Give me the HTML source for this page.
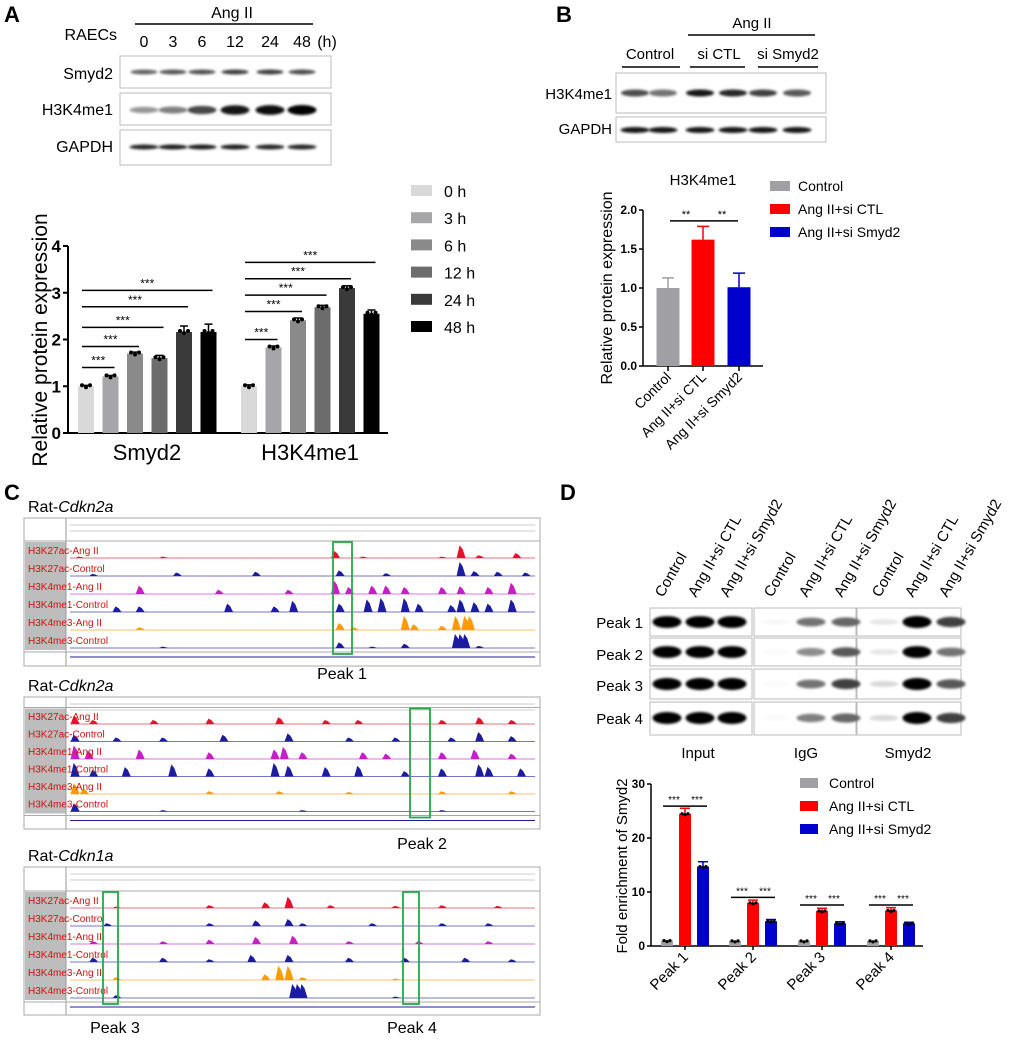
<!DOCTYPE html>
<html><head><meta charset="utf-8"><style>
body{margin:0;background:#fff}
svg{display:block;font-family:"Liberation Sans",sans-serif}
</style></head><body>
<svg id="fig" width="1020" height="1040" viewBox="0 0 1020 1040" xmlns="http://www.w3.org/2000/svg">
<defs><filter id="blur" x="-20%" y="-50%" width="140%" height="200%"><feGaussianBlur stdDeviation="1.3"/></filter></defs>
<g font-weight="bold" font-size="22">
<text x="4" y="22">A</text>
<text x="556" y="22">B</text>
<text x="4" y="500">C</text>
<text x="560" y="500">D</text>
</g>
<g font-size="16">
<text x="232" y="18" text-anchor="middle">Ang II</text>
<line x1="135" y1="24" x2="313" y2="24" stroke="#000" stroke-width="1.5"/>
<text x="117" y="40" text-anchor="end">RAECs</text>
<text x="144" y="47" text-anchor="middle">0</text><text x="173" y="47" text-anchor="middle">3</text><text x="202" y="47" text-anchor="middle">6</text><text x="235" y="47" text-anchor="middle">12</text><text x="270" y="47" text-anchor="middle">24</text><text x="302" y="47" text-anchor="middle">48</text><text x="327" y="47" text-anchor="middle">(h)</text>
<text x="113" y="79" text-anchor="end">Smyd2</text>
<text x="113" y="115" text-anchor="end">H3K4me1</text>
<text x="113" y="152" text-anchor="end">GAPDH</text>
<rect x="120" y="56" width="211" height="32" fill="#fff" stroke="#bbb"/>
<rect x="120" y="93" width="211" height="32" fill="#fff" stroke="#bbb"/>
<rect x="120" y="130" width="211" height="35" fill="#fff" stroke="#bbb"/>
</g>
<g font-size="15">
<text x="752" y="28" text-anchor="middle">Ang II</text>
<line x1="688" y1="35" x2="815" y2="35" stroke="#000" stroke-width="1.5"/>
<text x="650" y="59" text-anchor="middle">Control</text>
<text x="719" y="59" text-anchor="middle">si CTL</text>
<text x="788" y="59" text-anchor="middle">si Smyd2</text>
<line x1="622" y1="67" x2="680" y2="67" stroke="#000" stroke-width="1.5"/><line x1="690" y1="67" x2="745" y2="67" stroke="#000" stroke-width="1.5"/><line x1="758" y1="67" x2="818" y2="67" stroke="#000" stroke-width="1.5"/>
<text x="612" y="99" text-anchor="end">H3K4me1</text>
<text x="612" y="134" text-anchor="end">GAPDH</text>
<rect x="616" y="73" width="210" height="40" fill="#fff" stroke="#bbb"/>
<rect x="616" y="117" width="210" height="25" fill="#fff" stroke="#bbb"/>
</g>
<g font-size="15">
<rect x="650" y="608" width="102" height="28" fill="#fff" stroke="#bbb"/><rect x="754" y="608" width="102" height="28" fill="#fff" stroke="#bbb"/><rect x="857" y="608" width="104" height="28" fill="#fff" stroke="#bbb"/>
<rect x="650" y="638" width="102" height="28" fill="#fff" stroke="#bbb"/><rect x="754" y="638" width="102" height="28" fill="#fff" stroke="#bbb"/><rect x="857" y="638" width="104" height="28" fill="#fff" stroke="#bbb"/>
<rect x="650" y="669" width="102" height="30" fill="#fff" stroke="#bbb"/><rect x="754" y="669" width="102" height="30" fill="#fff" stroke="#bbb"/><rect x="857" y="669" width="104" height="30" fill="#fff" stroke="#bbb"/>
<rect x="650" y="702" width="102" height="33" fill="#fff" stroke="#bbb"/><rect x="754" y="702" width="102" height="33" fill="#fff" stroke="#bbb"/><rect x="857" y="702" width="104" height="33" fill="#fff" stroke="#bbb"/>
<text x="643" y="628" text-anchor="end">Peak 1</text><text x="643" y="660" text-anchor="end">Peak 2</text><text x="643" y="691" text-anchor="end">Peak 3</text><text x="643" y="724" text-anchor="end">Peak 4</text>
<text x="698" y="758" text-anchor="middle">Input</text><text x="806" y="758" text-anchor="middle">IgG</text><text x="908" y="758" text-anchor="middle">Smyd2</text>
</g>
<g id="bands"></g>
<g id="browser"></g>
<g id="chartA"></g>
<g id="chartB"></g>
<g id="chartD"></g>
</svg>
<script>
const NS='http://www.w3.org/2000/svg';
function mk(p,tag,a,txt){const e=document.createElementNS(NS,tag);for(const k in a)e.setAttribute(k,a[k]);if(txt!==undefined)e.textContent=txt;p.appendChild(e);return e;}

// ---------- western bands ----------
const bandsG=document.getElementById('bands');
const aLanes=[144,173,202,235,270,302];
const aSmyd2=[0.6,0.65,0.68,0.75,0.75,0.7];
const aH3=[0.4,0.5,0.72,0.9,0.95,1.0];
const aGapdh=[0.85,0.88,0.88,0.88,0.85,0.85];
function band(x,y,w,h,dark){
 const c=Math.round(255*(1-dark));
 const e=mk(bandsG,'ellipse',{cx:x,cy:y,rx:w/2,ry:h/2,fill:'rgb('+c+','+c+','+c+')',filter:'url(#blur)'});
 
 
}
aLanes.forEach((x,i)=>{band(x,72,27,5,aSmyd2[i]);band(x,110,29,4+aH3[i]*6,aH3[i]);band(x,147,29,5,aGapdh[i]);});
const bLanes=[635,663,700,733,763,797];
const bH3=[0.7,0.55,0.9,0.85,0.75,0.65];
bLanes.forEach((x,i)=>{band(x,93,28,7,bH3[i]);band(x,130,29,6,0.92);});
const dLanes=[[667,700,732],[776,811,846],[884,917,951]];
const dRows=[622,652,684,718];
const dInt=[[[0.98,0.98,0.98],[0.03,0.55,0.6],[0.1,1,0.75]],[[0.98,0.98,0.98],[0.02,0.45,0.65],[0.1,0.98,0.55]],[[1,1,1],[0.02,0.55,0.75],[0.15,1,0.65]],[[1,1,1],[0.02,0.5,0.6],[0.15,1,0.75]]];
dRows.forEach((y,r)=>dLanes.forEach((ls,g)=>ls.forEach((x,l)=>{const v=dInt[r][g][l];band(x,y,29,5+v*7,v);})));

// rotated column labels D
const dColLabels=['Control','Ang II+si CTL','Ang II+si Smyd2'];
dLanes.forEach(ls=>ls.forEach((x,l)=>{
 const t=mk(document.getElementById('fig'),'text',{x:0,y:0,transform:'translate('+(x-4)+',598) rotate(-60)','font-size':15},dColLabels[l]);
 
 
}));

// ---------- genome browser (panel C) ----------
const bg=document.getElementById('browser');
const trackLabels=['H3K27ac-Ang II','H3K27ac-Control','H3K4me1-Ang II','H3K4me1-Control','H3K4me3-Ang II','H3K4me3-Control'];
const trackColors=['#e8102a','#1c1ca0','#c81ec8','#1c1ca0','#ff9a00','#1c1ca0'];
const p1Peaks=[
 [[.02,.1],[.2,.1],[.57,.5],[.63,.1],[.8,.1],[.84,.9],[.88,.2],[.96,.35]],
 [[.05,.15],[.23,.25],[.4,.3],[.58,.4],[.68,.2],[.84,1],[.87,.35],[.92,.3],[.98,.25]],
 [[.15,.6],[.32,.3],[.47,.3],[.57,.95],[.6,.5],[.65,.6],[.68,.6],[.72,.5],[.8,.5],[.84,.55],[.9,.5],[.95,.8]],
 [[.1,.4],[.15,.4],[.34,.6],[.44,.4],[.48,.8],[.58,.6],[.64,.9],[.67,1],[.72,1],[.75,.6],[.82,.5],[.84,.9],[.87,.7],[.9,.6],[.95,.9]],
 [[.15,.2],[.58,.5],[.61,.2],[.72,1],[.74,.4],[.8,.3],[.83,1],[.85,1],[.86,1]],
 [[.2,.1],[.58,.4],[.65,.1],[.72,.3],[.83,1],[.84,1],[.85,1],[.88,.15]]
];
const p2Peaks=[
 [[.01,.6],[.05,.3],[.18,.3],[.3,.4],[.45,.5],[.55,.3],[.62,.3],[.8,.3],[.88,.5],[.95,.3]],
 [[.01,.5],[.1,.3],[.2,.3],[.33,.5],[.47,.6],[.6,.3],[.7,.3],[.82,.3],[.88,.7],[.95,.4]],
 [[.01,1],[.04,.6],[.15,.7],[.3,.5],[.44,.7],[.46,.9],[.5,.5],[.63,.5],[.68,.4],[.8,.5],[.87,.7],[.95,.4]],
 [[.01,1],[.05,.5],[.12,.7],[.22,.9],[.3,.6],[.44,1],[.47,.8],[.55,.7],[.62,.8],[.72,.4],[.8,.6],[.88,.9],[.9,.7],[.97,.6]],
 [[.01,.8],[.03,.4],[.3,.2],[.45,.2],[.6,.15],[.8,.2],[.95,.2]],
 [[.01,.6],[.2,.1],[.5,.1],[.8,.1]]
];
const p3Peaks=[
 [[.1,.1],[.3,.2],[.42,.4],[.47,.8],[.56,.2],[.7,.15],[.8,.2],[.92,.15]],
 [[.08,.2],[.3,.2],[.4,.4],[.47,.5],[.5,.2],[.65,.2],[.8,.2],[.9,.2]],
 [[.05,.2],[.2,.2],[.3,.3],[.4,.5],[.48,.6],[.6,.2],[.75,.2],[.9,.2]],
 [[.05,.3],[.2,.3],[.3,.2],[.39,.5],[.47,.5],[.6,.3],[.72,.3],[.85,.3],[.95,.2]],
 [[.1,.2],[.42,.4],[.45,1],[.47,1],[.5,.2],[.7,.1]],
 [[.1,.2],[.48,1],[.49,1],[.5,1],[.7,.1]]
];
function browser(name,title,y0,h,baseY,step,peaks,boxes,peakLabels){
 const g=mk(bg,'g',{});
 
 
 const tt=mk(g,'text',{x:28,y:y0-6,'font-size':16},'');
 mk(tt,'tspan',{},'Rat-');mk(tt,'tspan',{'font-style':'italic'},title);
 
 
 mk(g,'rect',{x:24,y:y0,width:516,height:h,fill:'#fff',stroke:'#aaa'});
 mk(g,'rect',{x:25,y:baseY-step+2,width:41,height:step*6,fill:'#bdbdbd'});
 mk(g,'line',{x1:66,y1:y0,x2:66,y2:y0+h,stroke:'#999'});
 mk(g,'line',{x1:24,y1:baseY-step+1,x2:540,y2:baseY-step+1,stroke:'#aaa'});
 mk(g,'line',{x1:70,y1:y0+7,x2:535,y2:y0+7,stroke:'#999','stroke-width':.6});
 mk(g,'line',{x1:70,y1:y0+13,x2:535,y2:y0+13,stroke:'#999','stroke-width':.6});
 mk(g,'line',{x1:24,y1:baseY+step*5+4,x2:540,y2:baseY+step*5+4,stroke:'#aaa'});
 mk(g,'line',{x1:70,y1:baseY+step*5+9,x2:535,y2:baseY+step*5+9,stroke:'#1c1ca0','stroke-width':1});
 const x0=70,w=465;
 for(let t=0;t<6;t++){
  const by=baseY+t*step;
  mk(g,'line',{x1:x0,y1:by,x2:x0+w,y2:by,stroke:trackColors[t],'stroke-width':1,opacity:.6});
  peaks[t].forEach(p=>{
   const px=x0+p[0]*w,ph=p[1]*(step-4);
   const pk=mk(g,'path',{d:'M'+(px-4)+','+by+' L'+(px-1)+','+(by-ph)+' L'+(px+2)+','+(by-ph*0.7)+' L'+(px+5)+','+by+'Z',fill:trackColors[t]});
   
   
  });
  const lb=mk(g,'text',{x:28,y:by-4,'font-size':10,fill:'#d01010'},trackLabels[t]);
  
  
 }
 boxes.forEach(b=>{
  const r=mk(g,'rect',{x:b[0],y:baseY-step+2,width:b[1],height:step*6+4,fill:'none',stroke:'#22aa44','stroke-width':1.8});
  
  
 });
 peakLabels.forEach(pl=>{
  const t=mk(g,'text',{x:pl[0],y:pl[1],'font-size':16,'text-anchor':'middle'},pl[2]);
  
  
 });
}
browser('browser-cdkn2a-1','Cdkn2a',518,148,558,18,p1Peaks,[[333,19]],[[342,679,'Peak 1']]);
browser('browser-cdkn2a-2','Cdkn2a',697,132,724,17.5,p2Peaks,[[410,20]],[[422,849,'Peak 2']]);
browser('browser-cdkn1a','Cdkn1a',867,148,908,18,p3Peaks,[[103,15],[403,16]],[[115,1033,'Peak 3'],[412,1033,'Peak 4']]);

// ---------- Chart A ----------
const aCats=['Smyd2','H3K4me1'];
const aSeries=['0 h','3 h','6 h','12 h','24 h','48 h'];
const aSmyd2Vals=[1.0,1.21,1.70,1.60,2.16,2.16];
const aSmyd2Err=[0.02,0.02,0.03,0.06,0.13,0.17];
const aH3Vals=[1.0,1.83,2.41,2.69,3.10,2.55];
const aH3Err=[0.03,0.03,0.05,0.04,0.05,0.08];
const aTicks=[0,1,2,3,4];
const aSigSmyd2=[1.4,1.85,2.26,2.7,3.05];
const aSigH3=[2.0,2.6,2.95,3.3,3.65];
(function(){
 const g=document.getElementById('chartA');
 const cols=['#d9d9d9','#a6a6a8','#8a8a8a','#6c6c6c','#3a3a3a','#000'];
 const y=v=>433-v*(433-246)/4;
 const gx=[86,249],step=24.5,bw=16;
 const xb=(c,s)=>gx[c]+s*step;
 const ax=mk(g,'path',{d:'M68,246 V433 H388',fill:'none',stroke:'#000','stroke-width':2});
 
 
 aTicks.forEach(t=>{mk(g,'line',{x1:63,y1:y(t),x2:68,y2:y(t),stroke:'#000','stroke-width':2});
  const tl=mk(g,'text',{x:61,y:y(t)+6,'text-anchor':'end','font-size':17,'font-weight':'bold'},t);
  
  });
 const yl=mk(g,'text',{transform:'translate(47,340) rotate(-90)','text-anchor':'middle','font-size':21},'Relative protein expression');
 
 
 aCats.forEach((c,i)=>{const t=mk(g,'text',{x:gx[i]+61,y:460,'text-anchor':'middle','font-size':22},c);
  
  });
 [[aSmyd2Vals,aSmyd2Err,aSigSmyd2],[aH3Vals,aH3Err,aSigH3]].forEach((d,c)=>{
  d[0].forEach((v,s)=>{
   const x=xb(c,s);
   const b=mk(g,'rect',{x:x-bw/2,y:y(v),width:bw,height:433-y(v),fill:cols[s]});
   
   
   mk(g,'path',{d:'M'+x+','+y(v)+' V'+y(v+d[1][s])+' M'+(x-4)+','+y(v+d[1][s])+' H'+(x+4),stroke:'#000','stroke-width':1.5});
   [-4,0,4].forEach(o=>mk(g,'circle',{cx:x+o,cy:y(v)+(o===0?1:-1),r:2,fill:'#000'}));
  });
  d[2].forEach((sv,k)=>{
   const x1=xb(c,0)-4,x2=xb(c,k+1)+4;
   const l=mk(g,'line',{x1:x1,y1:y(sv),x2:x2,y2:y(sv),stroke:'#000','stroke-width':1.5});
   
   
   mk(g,'text',{x:(x1+x2)/2,y:y(sv)-3,'text-anchor':'middle','font-size':12},'***');
  });
 });
 aSeries.forEach((s,i)=>{
  const yy=191+i*27.2;
  const sw=mk(g,'rect',{x:411,y:yy-6,width:21,height:11,fill:cols[i]});
  
  
  const t=mk(g,'text',{x:444,y:yy+6,'font-size':16},s);
  
  
 });
})();

// ---------- Chart B ----------
const bCats=['Control','Ang II+si CTL','Ang II+si Smyd2'];
const bVals=[1.0,1.62,1.01];
const bErr=[0.13,0.17,0.18];
const bTicks=[0,0.5,1.0,1.5,2.0];
(function(){
 const g=document.getElementById('chartB');
 const cols=['#a0a0a4','#ff0000','#0000cc'];
 const y=v=>366-v*(366-210)/2;
 const xs=[668,703,739],bw=23;
 mk(g,'path',{d:'M643,210 V366 H763',fill:'none',stroke:'#000','stroke-width':1.5});
 bTicks.forEach(t=>{mk(g,'line',{x1:639,y1:y(t),x2:643,y2:y(t),stroke:'#000','stroke-width':1.5});
  const tl=mk(g,'text',{x:637,y:y(t)+4,'text-anchor':'end','font-size':12,'font-weight':'bold'},t.toFixed(1));
  
  });
 const yl=mk(g,'text',{transform:'translate(612,288) rotate(-90)','text-anchor':'middle','font-size':16},'Relative protein expression');
 
 
 const ti=mk(g,'text',{x:703,y:185,'text-anchor':'middle','font-size':15},'H3K4me1');
 
 
 bVals.forEach((v,i)=>{
  const x=xs[i];
  const b=mk(g,'rect',{x:x-bw/2,y:y(v),width:bw,height:366-y(v),fill:cols[i]});
  
  
  mk(g,'path',{d:'M'+x+','+y(v)+' V'+y(v+bErr[i])+' M'+(x-6)+','+y(v+bErr[i])+' H'+(x+6),stroke:cols[i],'stroke-width':1.5});
  mk(g,'line',{x1:x,y1:366,x2:x,y2:371,stroke:'#000','stroke-width':1.5});
  const t=mk(g,'text',{transform:'translate('+(x+4)+',378) rotate(-45)','text-anchor':'end','font-size':14},bCats[i]);
  
  
 });
 mk(g,'line',{x1:670,y1:y(1.86),x2:738,y2:y(1.86),stroke:'#000','stroke-width':1.5});
 mk(g,'text',{x:686,y:y(1.86)-3,'text-anchor':'middle','font-size':11},'**');
 mk(g,'text',{x:722,y:y(1.86)-3,'text-anchor':'middle','font-size':11},'**');
 bCats.forEach((c,i)=>{
  const yy=186+i*23;
  const sw=mk(g,'rect',{x:770,y:yy-5,width:20,height:10,fill:cols[i]});
  
  
  const t=mk(g,'text',{x:798,y:yy+5,'font-size':14},c);
  
  
 });
})();

// ---------- Chart D ----------
const dCats=['Peak 1','Peak 2','Peak 3','Peak 4'];
const dSeries=['Control','Ang II+si CTL','Ang II+si Smyd2'];
const dControl=[1.0,0.95,0.95,0.95];
const dCTL=[24.5,8.0,6.5,6.6];
const dSmyd2=[14.7,4.6,4.2,4.2];
const dErrCTL=[1.0,0.5,0.5,0.5];
const dErrSmyd2=[0.9,0.3,0.3,0.2];
const dSig=[25.9,9.0,7.6,7.6];
const dTicks=[0,10,20,30];
(function(){
 const g=document.getElementById('chartD');
 const cols=['#a0a0a4','#ff0000','#0000cc'];
 const y=v=>946-v*(946-784)/30;
 const gx=[685,753,822,891],off=18,bw=12;
 mk(g,'path',{d:'M651,784 V946 H923',fill:'none',stroke:'#000','stroke-width':1.5});
 dTicks.forEach(t=>{mk(g,'line',{x1:647,y1:y(t),x2:651,y2:y(t),stroke:'#000','stroke-width':1.5});
  const tl=mk(g,'text',{x:645,y:y(t)+4,'text-anchor':'end','font-size':12,'font-weight':'bold'},t);
  
  });
 const yl=mk(g,'text',{transform:'translate(627,866) rotate(-90)','text-anchor':'middle','font-size':15},'Fold enrichment of Smyd2');
 
 
 const series=[[dControl,null],[dCTL,dErrCTL],[dSmyd2,dErrSmyd2]];
 dCats.forEach((c,i)=>{
  series.forEach((s,k)=>{
   const x=gx[i]+(k-1)*off,v=s[0][i];
   const b=mk(g,'rect',{x:x-bw/2,y:y(v),width:bw,height:946-y(v),fill:cols[k]});
   
   
   if(s[1])mk(g,'path',{d:'M'+x+','+y(v)+' V'+y(v+s[1][i])+' M'+(x-5)+','+y(v+s[1][i])+' H'+(x+5),stroke:cols[k],'stroke-width':1.5});
   [-3,0,3].forEach(o=>mk(g,'circle',{cx:x+o,cy:y(v)+(o===0?1:0),r:1.6,fill:'#000'}));
  });
  mk(g,'line',{x1:gx[i],y1:946,x2:gx[i],y2:950,stroke:'#000','stroke-width':1.5});
  const t=mk(g,'text',{transform:'translate('+(gx[i]+4)+',958) rotate(-45)','text-anchor':'end','font-size':15},c);
  
  
  const sy=y(dSig[i]);
  const l=mk(g,'line',{x1:gx[i]-22,y1:sy,x2:gx[i]+22,y2:sy,stroke:'#000','stroke-width':1.5});
  
  
  mk(g,'text',{x:gx[i]-11,y:sy-3,'text-anchor':'middle','font-size':10},'***');
  mk(g,'text',{x:gx[i]+12,y:sy-3,'text-anchor':'middle','font-size':10},'***');
 });
 dSeries.forEach((c,i)=>{
  const yy=783+i*23;
  const sw=mk(g,'rect',{x:800,y:yy-5,width:18,height:10,fill:cols[i]});
  
  
  const t=mk(g,'text',{x:829,y:yy+5,'font-size':14},c);
  
  
 });
})();
</script>
</body></html>
